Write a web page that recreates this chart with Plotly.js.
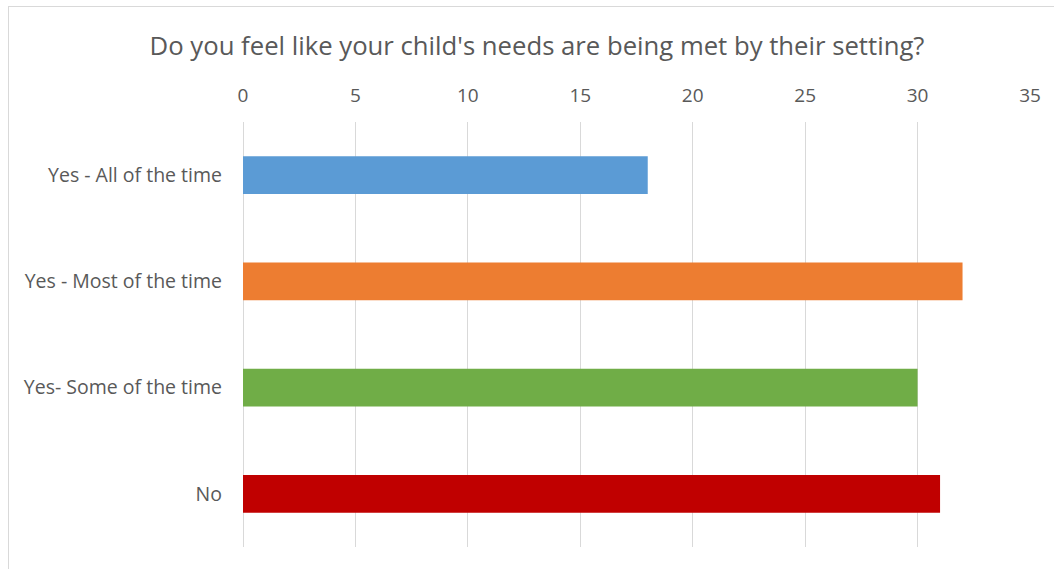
<!DOCTYPE html>
<html>
<head>
<meta charset="utf-8">
<script src="https://cdn.plot.ly/plotly-3.0.1.min.js"></script>
<style>
html,body{margin:0;padding:0;background:#fff;overflow:hidden;}
#frame{position:absolute;left:8px;top:6px;width:1100px;height:620px;border-left:1px solid #d9d9d9;border-top:1px solid #d9d9d9;box-sizing:border-box;}
#chart{position:absolute;left:0;top:0;width:1054px;height:569px;}
</style>
</head>
<body>
<div id="frame"></div>
<div id="chart"></div>
<script>
const categories = ["Yes - All of the time", "Yes - Most of the time", "Yes- Some of the time", "No"];
const values = [18, 32, 30, 31];
const barColors = ["#5B9BD5", "#ED7D31", "#70AD47", "#C00000"];
const xTicks = [0, 5, 10, 15, 20, 25, 30, 35];

const trace = {
  type: "bar",
  orientation: "h",
  y: categories,
  x: values,
  width: 0.355,
  marker: {color: barColors},
  hoverinfo: "x+y"
};

const layout = {
  width: 1054,
  height: 569,
  margin: {l: 243, r: 24, t: 122, b: 22},
  paper_bgcolor: "rgba(0,0,0,0)",
  plot_bgcolor: "rgba(0,0,0,0)",
  font: {family: "'Open Sans', sans-serif", color: "#595959", size: 19.5},
  title: {
    text: "Do you feel like your child's needs are being met by their setting?",
    font: {size: 25.7, color: "#595959"},
    x: 0.5095, xanchor: "center", y: 0.92, yanchor: "middle"
  },
  showlegend: false,
  xaxis: {
    side: "top",
    range: [0, 35],
    tickvals: xTicks,
    ticktext: xTicks.map(String),
    showgrid: true,
    gridcolor: "#d9d9d9",
    gridwidth: 1,
    zeroline: true,
    zerolinecolor: "#d9d9d9",
    zerolinewidth: 1,
    showline: false,
    ticks: "",
    ticklabelstandoff: 15,
    tickfont: {size: 19, color: "#595959"}
  },
  yaxis: {
    autorange: "reversed",
    type: "category",
    showgrid: false,
    zeroline: false,
    showline: false,
    ticks: "",
    ticklabelstandoff: 20,
    tickfont: {size: 19.5, color: "#595959"}
  }
};

Plotly.newPlot("chart", [trace], layout, {displayModeBar: false, staticPlot: true});
</script>
</body>
</html>
